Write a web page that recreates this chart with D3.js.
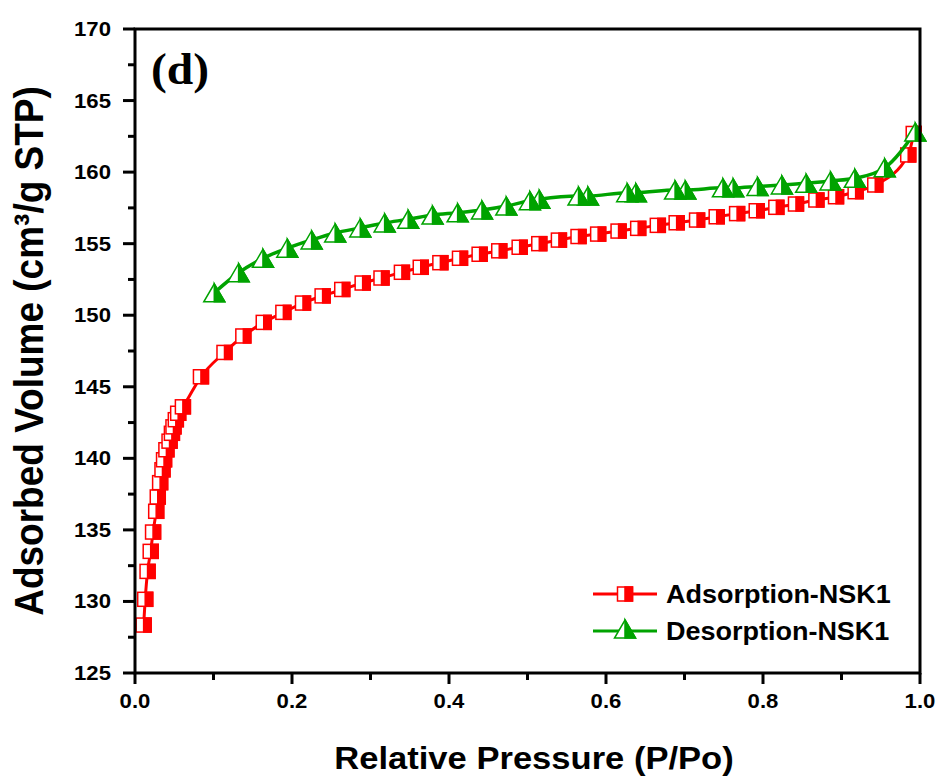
<!DOCTYPE html>
<html>
<head>
<meta charset="utf-8">
<script src="https://cdn.jsdelivr.net/npm/d3@7"></script>
<style>
  html, body { margin: 0; padding: 0; background: #fff; }
  svg { display: block; }
  text { font-family: Arial, "Liberation Sans", sans-serif; font-weight: bold; fill: #000; }
</style>
</head>
<body>
<svg id="chart" width="942" height="776"></svg>
<script>
// ---------- data ----------
const adsP = [0.011,0.013,0.016,0.020,0.023,0.027,0.029,0.032,0.035,0.037,0.040,0.044,0.047,0.049,0.052,0.055,0.061,0.084,0.114,0.138,0.164,0.189,0.214,0.239,0.264,0.290,0.314,0.340,0.364,0.389,0.414,0.439,0.464,0.490,0.515,0.540,0.565,0.590,0.616,0.641,0.666,0.690,0.716,0.741,0.767,0.792,0.817,0.842,0.868,0.893,0.918,0.943,0.985,0.992];
const adsV = [128.35,130.15,132.1,133.5,134.85,136.3,137.3,138.3,139.2,139.9,140.6,141.2,141.75,142.2,142.7,143.15,143.6,145.7,147.4,148.55,149.5,150.2,150.85,151.35,151.8,152.25,152.6,153.0,153.35,153.67,153.98,154.26,154.5,154.75,155.0,155.25,155.5,155.67,155.88,156.07,156.28,156.46,156.65,156.88,157.1,157.3,157.54,157.77,158.05,158.28,158.63,159.1,161.2,162.7];
const desP = [0.994,0.955,0.917,0.886,0.855,0.824,0.793,0.762,0.749,0.701,0.688,0.638,0.627,0.577,0.565,0.515,0.503,0.473,0.442,0.411,0.379,0.348,0.318,0.287,0.255,0.225,0.194,0.163,0.132,0.101];
const desV = [162.8,160.3,159.57,159.38,159.22,159.1,159.0,158.9,158.9,158.75,158.75,158.56,158.56,158.33,158.33,158.1,158.0,157.63,157.35,157.16,157.0,156.7,156.45,156.1,155.75,155.26,154.68,153.98,152.97,151.57];
const xTicks = [0.0,0.2,0.4,0.6,0.8,1.0];
const xTickLabels = ["0.0","0.2","0.4","0.6","0.8","1.0"];
const xMinor = [0.1,0.3,0.5,0.7,0.9];
const yTicks = [125,130,135,140,145,150,155,160,165,170];
const yMinor = [127.5,132.5,137.5,142.5,147.5,152.5,157.5,162.5,167.5];
const seriesNames = ["Adsorption-NSK1","Desorption-NSK1"];
const seriesColors = ["#ff0000","#00a300"];
const xTitle = "Relative Pressure (P/Po)";
const yTitle = "Adsorbed Volume (cm\u00B3/g STP)";
const panelLabel = "(d)";

// ---------- layout ----------
const L = 135, R = 920, T = 29, B = 673;
const SX = 1.08; // horizontal stretch of glyphs in the reference
const svg = d3.select("#chart");
const x = d3.scaleLinear().domain([0,1]).range([L,R]);
const y = d3.scaleLinear().domain([125,170]).range([B,T]);

const ads = adsP.map((p,i)=>({p, v: adsV[i]}));
const des = desP.map((p,i)=>({p, v: desV[i]}));

function stretchedText(g, tx, ty, str, size, anchor, extra) {
  return g.append("text")
    .attr("transform", `translate(${tx},${ty}) scale(${SX},1)` + (extra||""))
    .attr("text-anchor", anchor)
    .style("font-size", size + "px")
    .text(str);
}

// ---------- series ----------
const line = d3.line().x(d=>x(d.p)).y(d=>y(d.v)).curve(d3.curveMonotoneX);

const sq = {w: 15, h: 14};
const tri = {w: 21, h: 18};

function drawSquare(g, cx, cy, col) {
  g.append("rect").attr("x", cx - sq.w/2).attr("y", cy - sq.h/2)
    .attr("width", sq.w).attr("height", sq.h)
    .attr("fill", "#fff").attr("stroke", col).attr("stroke-width", 1.5);
  g.append("rect").attr("x", cx).attr("y", cy - sq.h/2)
    .attr("width", sq.w/2).attr("height", sq.h)
    .attr("fill", col).attr("stroke", col).attr("stroke-width", 1.5);
}
function drawTriangle(g, cx, cy, col) {
  const top = cy - tri.h/2, bot = cy + tri.h/2;
  g.append("path")
    .attr("d", `M${cx},${top}L${cx+tri.w/2},${bot}L${cx-tri.w/2},${bot}Z`)
    .attr("fill", "#fff").attr("stroke", col).attr("stroke-width", 1.5).attr("stroke-linejoin","miter");
  g.append("path")
    .attr("d", `M${cx},${top}L${cx+tri.w/2},${bot}L${cx},${bot}Z`)
    .attr("fill", col).attr("stroke", col).attr("stroke-width", 1.5);
}

const gA = svg.append("g");
gA.append("path").datum([...ads].sort((a,b)=>a.p-b.p)).attr("d", line)
  .attr("fill","none").attr("stroke", seriesColors[0]).attr("stroke-width", 3);
ads.forEach(d => drawSquare(gA, x(d.p), y(d.v), seriesColors[0]));

const gD = svg.append("g");
gD.append("path").datum([...des].sort((a,b)=>a.p-b.p)).attr("d", line)
  .attr("fill","none").attr("stroke", seriesColors[1]).attr("stroke-width", 3.5);
des.forEach(d => drawTriangle(gD, x(d.p), y(d.v), seriesColors[1]));

// ---------- axes ----------
const ax = svg.append("g");
ax.append("rect").attr("x", L).attr("y", T).attr("width", R-L).attr("height", B-T)
  .attr("fill","none").attr("stroke","#000").attr("stroke-width",3);

// bottom ticks
xTicks.forEach((t,i) => {
  ax.append("line").attr("x1", x(t)).attr("x2", x(t)).attr("y1", B).attr("y2", B+11)
    .attr("stroke","#000").attr("stroke-width",3);
  stretchedText(ax, x(t), 708, xTickLabels[i], 20.5, "middle");
});
xMinor.forEach(t => {
  ax.append("line").attr("x1", x(t)).attr("x2", x(t)).attr("y1", B).attr("y2", B+7)
    .attr("stroke","#000").attr("stroke-width",3);
});
// left ticks
yTicks.forEach(t => {
  ax.append("line").attr("x1", L-12).attr("x2", L).attr("y1", y(t)).attr("y2", y(t))
    .attr("stroke","#000").attr("stroke-width",3);
  stretchedText(ax, 111, y(t)+7, String(t), 20.5, "end");
});
yMinor.forEach(t => {
  ax.append("line").attr("x1", L-7).attr("x2", L).attr("y1", y(t)).attr("y2", y(t))
    .attr("stroke","#000").attr("stroke-width",3);
});

// titles
stretchedText(svg, 534, 769, xTitle, 32, "middle");
svg.append("text")
  .attr("transform", `translate(43,351) scale(${SX},1) rotate(-90)`)
  .attr("text-anchor","middle").style("font-size","37px").text(yTitle);

// panel label
svg.append("text")
  .attr("transform", `translate(151,84) scale(${SX},1)`)
  .style("font-family", "'Times New Roman', 'Liberation Serif', serif")
  .style("font-size", "44px").style("font-weight","bold")
  .text(panelLabel);

// ---------- legend ----------
const lg = svg.append("g");
const legY = [594, 631];
seriesNames.forEach((name, i) => {
  lg.append("line").attr("x1", 593).attr("x2", 657).attr("y1", legY[i]).attr("y2", legY[i])
    .attr("stroke", seriesColors[i]).attr("stroke-width", 3);
  if (i === 0) drawSquare(lg, 625, legY[i], seriesColors[i]);
  else drawTriangle(lg, 625, legY[i] - 2, seriesColors[i]);
  stretchedText(lg, 666, legY[i] + 9, name, 25, "start");
});
</script>
</body>
</html>
